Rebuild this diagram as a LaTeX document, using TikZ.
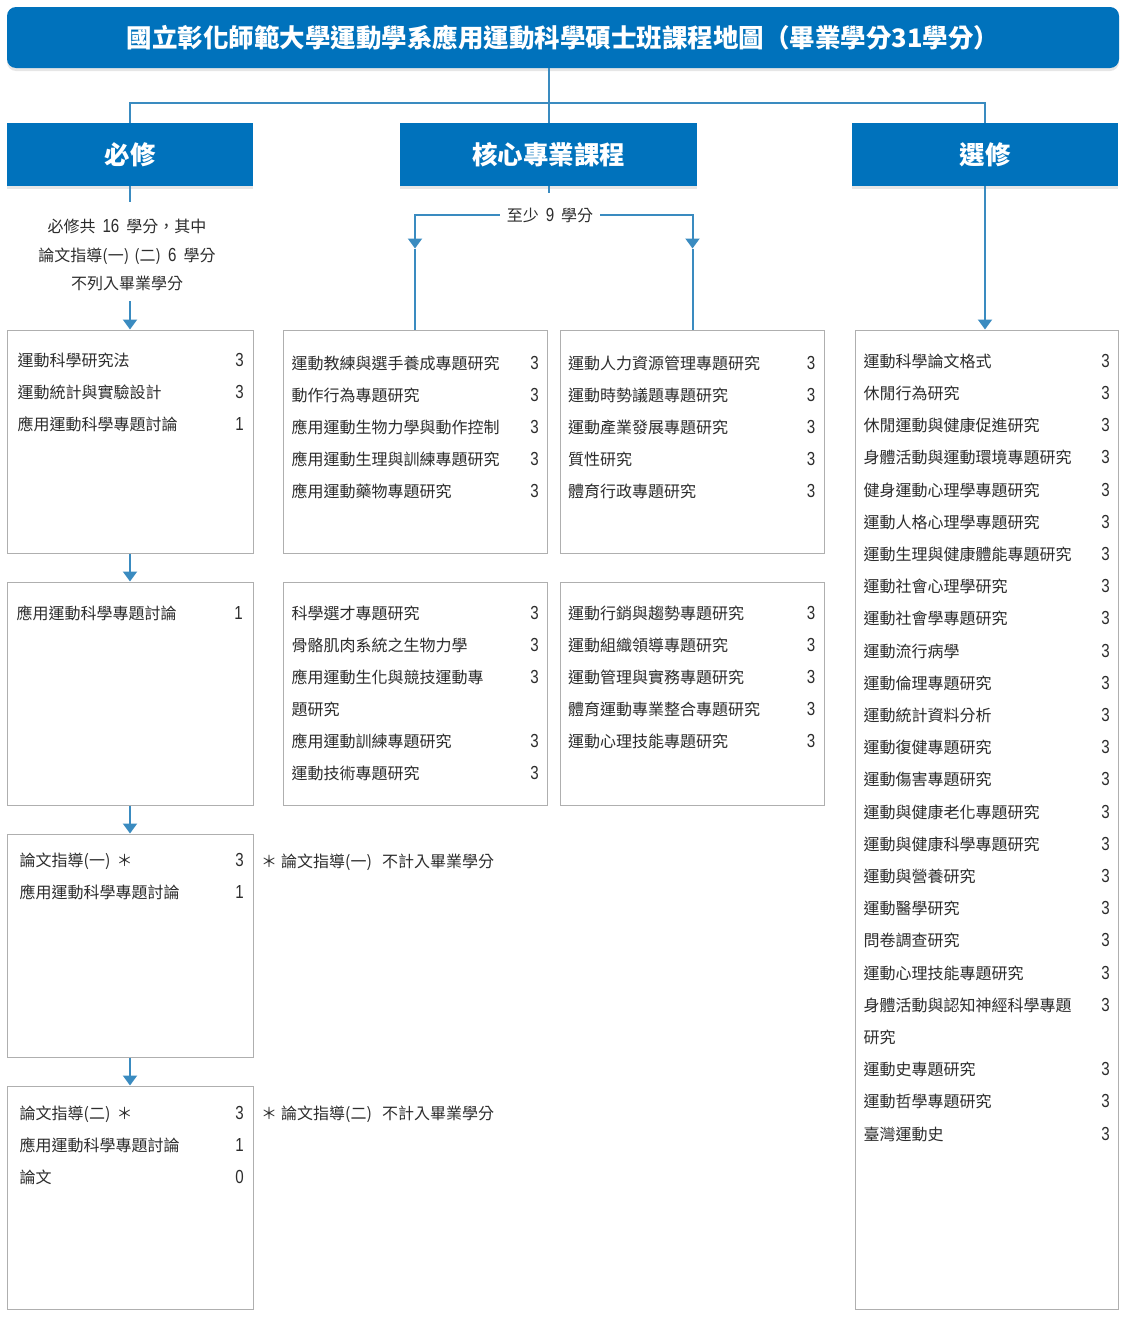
\documentclass[tikz,border=0pt]{standalone}
\usepackage{fontspec}
\setmainfont{Noto Sans CJK TC}
\newfontfamily\numfont{Liberation Sans}[Scale=1.18, FakeStretch=0.8]
\usetikzlibrary{arrows.meta, positioning, shadows}
\definecolor{mapblue}{RGB}{0,114,188}
\definecolor{linkblue}{RGB}{58,139,192}
\definecolor{boxgray}{RGB}{175,175,175}
\definecolor{txtgray}{RGB}{45,45,45}
\newcommand{\crd}[1]{{\numfont #1}}
\newcommand{\crs}[2]{#1\hspace{0pt plus 1filll}\crd{#2}}
\tikzset{
    banner/.style={rectangle, rounded corners=9pt, fill=mapblue, text=white, font=\fontsize{25.5}{30}\selectfont\bfseries, drop shadow={shadow xshift=0pt, shadow yshift=-3pt, opacity=0.2}},
    head/.style={rectangle, fill=mapblue, text=white, font=\fontsize{25.5}{30}\selectfont\bfseries, minimum height=63pt, drop shadow={shadow xshift=0pt, shadow yshift=-3pt, opacity=0.2}},
    card/.style={rectangle, draw=boxgray, fill=white, line width=1pt},
    list/.style={anchor=north west, inner sep=0pt, align=left, font=\fontsize{16}{32.1}\selectfont, text=txtgray},
    note/.style={inner sep=0pt, align=center, font=\fontsize{16}{28.5}\selectfont, text=txtgray},
    ln/.style={draw=linkblue, line width=2pt},
    arr/.style={ln, -{Triangle[width=14pt, length=10pt]}},
}
\begin{document}
\begin{tikzpicture}[x=1pt, y=-1pt]
\useasboundingbox (0,0) rectangle (1125,1325);

% Title
\node[banner, minimum width=1112pt, minimum height=61pt] (title) at (563,37.5) {國立彰化師範大學運動學系應用運動科學碩士班課程地圖（畢業學分31學分）};

% Headers
\node[head, minimum width=246pt] (req) at (130,154.5) {必修};
\node[head, minimum width=297pt] (core) at (548.5,154.5) {核心專業課程};
\node[head, minimum width=266pt] (elec) at (985,154.5) {選修};
\coordinate (fork) at (548.5,103);

% Notes under headers
\node[note] (reqnote) at (127,255) {必修共\hspace{7pt}\crd{16}\hspace{7pt}學分，其中\\論文指導(一)\hspace{5pt}(二)\hspace{7pt}\crd{6}\hspace{7pt}學分\\不列入畢業學分};
\node[note, inner xsep=7pt] (corenote) at (550,215) {至少\hspace{7pt}\crd{9}\hspace{7pt}學分};

% Required column
\node[card, minimum width=246pt, minimum height=223pt] (reqA) at (130,441.5) {};
\node[card, minimum width=246pt, minimum height=223pt, below=28pt of reqA] (reqB) {};
\node[card, minimum width=246pt, minimum height=223pt, below=28pt of reqB] (reqC) {};
\node[card, minimum width=246pt, minimum height=223pt, below=28pt of reqC] (reqD) {};

% Core columns
\node[card, minimum width=264pt, minimum height=223pt, right=29pt of reqA] (coreA1) {};
\node[card, minimum width=264pt, minimum height=223pt, right=12.5pt of coreA1] (coreA2) {};
\node[card, minimum width=264pt, minimum height=223pt, right=29pt of reqB] (coreB1) {};
\node[card, minimum width=264pt, minimum height=223pt, right=12.5pt of coreB1] (coreB2) {};

% Elective column
\node[card, minimum width=263pt, minimum height=979pt] (elecbox) at (986.5,819.5) {};

% Course lists
\node[list, text width=226pt] (reqAlist) at ([xshift=11pt, yshift=-23pt]reqA.north west) {\crs{運動科學研究法}{3}\\\crs{運動統計與實驗設計}{3}\\\crs{應用運動科學專題討論}{1}};
\node[list, text width=226pt] (reqBlist) at ([xshift=10pt, yshift=-24pt]reqB.north west) {\crs{應用運動科學專題討論}{1}};
\node[list, text width=224pt] (reqClist) at ([xshift=13pt, yshift=-19pt]reqC.north west) {\crs{論文指導(一)\hspace{6pt}＊}{3}\\\crs{應用運動科學專題討論}{1}};
\node[list, text width=224pt] (reqDlist) at ([xshift=13pt, yshift=-20pt]reqD.north west) {\crs{論文指導(二)\hspace{6pt}＊}{3}\\\crs{應用運動科學專題討論}{1}\\\crs{論文}{0}};

\node[list, text width=247pt] (coreA1list) at ([xshift=9pt, yshift=-26pt]coreA1.north west) {\crs{運動教練與選手養成專題研究}{3}\\\crs{動作行為專題研究}{3}\\\crs{應用運動生物力學與動作控制}{3}\\\crs{應用運動生理與訓練專題研究}{3}\\\crs{應用運動藥物專題研究}{3}};
\node[list, text width=247pt] (coreA2list) at ([xshift=8pt, yshift=-26pt]coreA2.north west) {\crs{運動人力資源管理專題研究}{3}\\\crs{運動時勢議題專題研究}{3}\\\crs{運動產業發展專題研究}{3}\\\crs{質性研究}{3}\\\crs{體育行政專題研究}{3}};
\node[list, text width=247pt] (coreB1list) at ([xshift=9pt, yshift=-24pt]coreB1.north west) {\crs{科學選才專題研究}{3}\\\crs{骨骼肌肉系統之生物力學}{3}\\\crs{應用運動生化與競技運動專}{3}\\題研究\\\crs{應用運動訓練專題研究}{3}\\\crs{運動技術專題研究}{3}};
\node[list, text width=247pt] (coreB2list) at ([xshift=8pt, yshift=-24pt]coreB2.north west) {\crs{運動行銷與趨勢專題研究}{3}\\\crs{運動組織領導專題研究}{3}\\\crs{運動管理與實務專題研究}{3}\\\crs{體育運動專業整合專題研究}{3}\\\crs{運動心理技能專題研究}{3}};

\node[list, text width=246pt, font=\fontsize{16}{32.2}\selectfont] (eleclist) at ([xshift=9pt, yshift=-24pt]elecbox.north west) {\crs{運動科學論文格式}{3}\\\crs{休閒行為研究}{3}\\\crs{休閒運動與健康促進研究}{3}\\\crs{身體活動與運動環境專題研究}{3}\\\crs{健身運動心理學專題研究}{3}\\\crs{運動人格心理學專題研究}{3}\\\crs{運動生理與健康體能專題研究}{3}\\\crs{運動社會心理學研究}{3}\\\crs{運動社會學專題研究}{3}\\\crs{運動流行病學}{3}\\\crs{運動倫理專題研究}{3}\\\crs{運動統計資料分析}{3}\\\crs{運動復健專題研究}{3}\\\crs{運動傷害專題研究}{3}\\\crs{運動與健康老化專題研究}{3}\\\crs{運動與健康科學專題研究}{3}\\\crs{運動與營養研究}{3}\\\crs{運動醫學研究}{3}\\\crs{問卷調查研究}{3}\\\crs{運動心理技能專題研究}{3}\\\crs{身體活動與認知神經科學專題}{3}\\研究\\\crs{運動史專題研究}{3}\\\crs{運動哲學專題研究}{3}\\\crs{臺灣運動史}{3}};

% Side notes
\node[note, anchor=west] (thesisInote) at (261,862) {＊\hspace{4pt}論文指導(一)\hspace{10pt}不計入畢業學分};
\node[note, anchor=west] (thesisIInote) at (261,1114) {＊\hspace{4pt}論文指導(二)\hspace{10pt}不計入畢業學分};

% Connectors
\draw[ln] (core.north |- title.south) -- (core.north);
\draw[ln] (fork) -| (req.north);
\draw[ln] (fork) -| (elec.north);
\draw[ln, shorten >=17pt] (req.south) -- (req.south |- reqnote.north);
\draw[arr, shorten <=10pt] (reqA.north |- reqnote.south) -- (reqA.north);
\draw[ln, shorten >=14pt] (core.south) -- (core.south |- corenote.north);
\coordinate[above=81pt of coreA1.north] (tipL);
\coordinate[above=81pt of coreA2.north] (tipR);
\draw[arr] (corenote.west) -| (tipL);
\draw[arr] (corenote.east) -| (tipR);
\draw[ln] (tipL) -- (coreA1.north);
\draw[ln] (tipR) -- (coreA2.north);
\draw[arr] (elec.south) -- (elec.south |- elecbox.north);
\draw[arr] (reqA) -- (reqB);
\draw[arr] (reqB) -- (reqC);
\draw[arr] (reqC) -- (reqD);

\end{tikzpicture}
\end{document}
